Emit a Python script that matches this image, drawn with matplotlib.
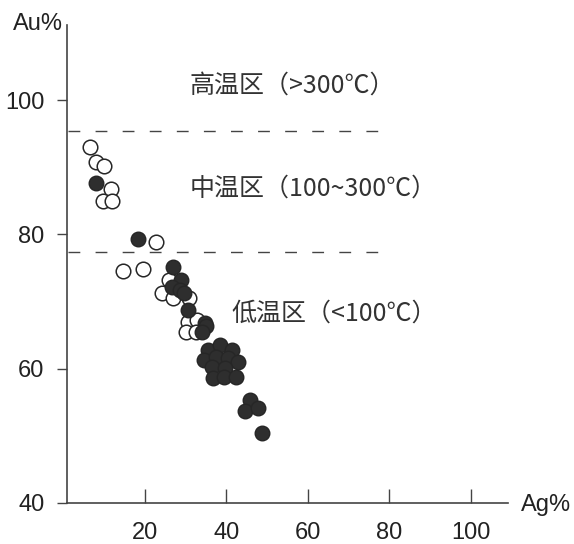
import matplotlib
matplotlib.use('Agg')
import matplotlib.pyplot as plt

# open circles (Ag%, Au%)
open_ag = [6.5, 7.9, 9.9, 11.7, 9.6, 11.8, 22.6, 14.7, 19.6, 26.0, 24.1, 26.8,
           30.9, 30.6, 32.8, 30.1, 32.5]
open_au = [93.0, 90.8, 90.2, 86.8, 84.9, 84.9, 78.8, 74.5, 74.8, 73.2, 71.2, 70.5,
           70.5, 67.0, 67.2, 65.5, 65.4]

# filled circles
fill_ag = [7.9, 18.4, 26.8, 28.8, 26.6, 28.6, 29.6, 30.6, 34.7, 35.1, 33.9,
           35.5, 38.4, 41.3, 34.5, 37.4, 40.4, 42.8, 36.4, 39.6,
           36.7, 39.4, 42.3, 45.8, 44.5, 47.8, 48.6]
fill_au = [87.6, 79.3, 75.1, 73.2, 72.1, 71.7, 71.2, 68.8, 66.8, 66.3, 65.4,
           62.8, 63.5, 62.8, 61.3, 61.8, 61.6, 61.0, 60.3, 60.1,
           58.6, 58.7, 58.7, 55.3, 53.7, 54.1, 50.4]

# zone boundaries
bound_au = [95.4, 77.4]
bound_ag = [1.1, 77.7]

zone_labels = ['高温区（>300℃）', '中温区（100~300℃）', '低温区（<100℃）']
zone_x = [31.0, 31.0, 41.3]
zone_y = [102.2, 86.8, 68.2]

xticks = [20, 40, 60, 80, 100]
yticks = [40, 60, 80, 100]

ink = '#262626'
cjk = ['Noto Sans CJK SC', 'Liberation Sans', 'DejaVu Sans']

fig = plt.figure(figsize=(5.74, 5.44), dpi=100)
ax = fig.add_axes([0.1162, 0.0754, 0.769, 0.879])

for yb in bound_au:
    ax.plot(bound_ag, [yb, yb], color='#444444', lw=1.0, linestyle=(0, (8.5, 11)))

ax.scatter(open_ag, open_au, s=110, facecolors='white', edgecolors=ink,
           linewidths=1.1, zorder=3)
ax.scatter(fill_ag, fill_au, s=110, facecolors='#2e2e2e', edgecolors=ink,
           linewidths=1.0, zorder=4)

for lab, tx, ty in zip(zone_labels, zone_x, zone_y):
    ax.text(tx, ty, lab, fontsize=18, family=cjk, color='#333333',
            ha='left', va='center')

ax.set_xlim(0.8, 109.1)
ax.set_ylim(40, 111.2)
ax.set_xticks(xticks)
ax.set_yticks(yticks)
ax.set_xticklabels([str(v) for v in xticks], family='Liberation Sans')
ax.set_yticklabels([str(v) for v in yticks], family='Liberation Sans')
ax.tick_params(axis='x', direction='in', length=10, width=1, pad=14,
               labelsize=17, colors='#444444', labelcolor='#222222')
ax.tick_params(axis='y', direction='out', length=7, width=1, pad=9,
               labelsize=17, colors='#444444', labelcolor='#222222')

for side in ['top', 'right']:
    ax.spines[side].set_visible(False)
for side in ['left', 'bottom']:
    ax.spines[side].set_color('#444444')
    ax.spines[side].set_linewidth(1.2)

fig.text(0.022, 0.977, 'Au%', fontsize=17, family='Liberation Sans',
         color='#222222', ha='left', va='top')
fig.text(0.908, 0.072, 'Ag%', fontsize=17, family='Liberation Sans',
         color='#222222', ha='left', va='center')

fig.savefig('out.png', dpi=100)
